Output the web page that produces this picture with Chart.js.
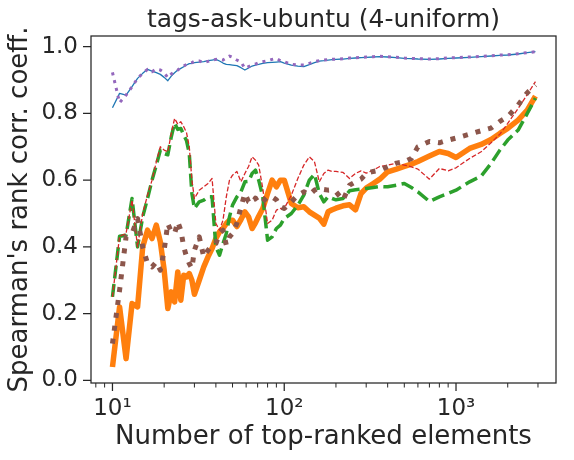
<!DOCTYPE html>
<html>
<head>
<meta charset="utf-8">
<script src="https://cdn.jsdelivr.net/npm/chart.js@4"></script>
<style>
  html, body { margin: 0; padding: 0; background: #fff; }
  #wrap { width: 574px; height: 460px; }
</style>
</head>
<body>
<div id="wrap"><canvas id="chart-rank-corr" width="574" height="460"></canvas></div>
<script>
// number of top-ranked elements (x)
const nTop = [10, 11, 12, 13, 14, 15, 16, 17, 18, 19, 20, 21, 22, 23, 24, 25, 26, 27, 28, 29, 30,
    32, 34, 36, 38, 40, 42, 44, 46, 48, 50, 53, 56, 59, 62, 65, 68, 71, 75, 80, 85, 90, 95, 100,
    110, 120, 130, 140, 150, 160, 170, 180, 190, 200, 220, 240, 260, 280, 300, 330, 360, 400, 450,
    500, 550, 600, 700, 800, 900, 1000, 1200, 1400, 1600, 1800, 2000, 2300, 2600, 2900];

const blueVals = [0.817, 0.860, 0.855, 0.880, 0.905, 0.920, 0.932, 0.927, 0.922, 0.917, 0.908, 0.898, 0.912, 0.922, 0.930, 0.935, 0.940, 0.945, 0.949, 0.950, 0.952,
    0.954, 0.955, 0.958, 0.960, 0.962, 0.957, 0.951, 0.947, 0.946, 0.945, 0.943, 0.937, 0.930, 0.936, 0.942, 0.945, 0.947, 0.950, 0.952, 0.953, 0.954, 0.955, 0.951,
    0.945, 0.942, 0.940, 0.946, 0.952, 0.957, 0.958, 0.960, 0.961, 0.962, 0.963, 0.965, 0.966, 0.967, 0.968, 0.969, 0.970, 0.969, 0.967,
    0.965, 0.964, 0.963, 0.962, 0.963, 0.965, 0.966, 0.968, 0.970, 0.972, 0.974, 0.975, 0.978, 0.982, 0.985];

const purpleVals = [0.923, 0.832, 0.855, 0.880, 0.905, 0.920, 0.932, 0.925, 0.933, 0.930, 0.922, 0.907, 0.918, 0.925, 0.930, 0.937, 0.942, 0.947, 0.950, 0.952, 0.956,
    0.957, 0.952, 0.956, 0.960, 0.962, 0.961, 0.960, 0.966, 0.972, 0.968, 0.960, 0.954, 0.935, 0.940, 0.945, 0.948, 0.952, 0.955, 0.958, 0.962, 0.965, 0.958, 0.955,
    0.947, 0.945, 0.945, 0.950, 0.955, 0.958, 0.960, 0.961, 0.962, 0.962, 0.964, 0.966, 0.967, 0.968, 0.969, 0.970, 0.971, 0.970, 0.968,
    0.966, 0.965, 0.964, 0.963, 0.964, 0.966, 0.967, 0.969, 0.971, 0.973, 0.975, 0.976, 0.979, 0.982, 0.985];

const redVals = [0.250, 0.432, 0.440, 0.540, 0.400, 0.500, 0.555, 0.600, 0.655, 0.700, 0.690, 0.685, 0.740, 0.785, 0.768, 0.775, 0.760, 0.742, 0.700, 0.600, 0.545,
    0.570, 0.580, 0.590, 0.605, 0.470, 0.450, 0.480, 0.550, 0.600, 0.615, 0.626, 0.595, 0.620, 0.641, 0.670, 0.660, 0.645, 0.575, 0.470, 0.480, 0.510, 0.515, 0.515,
    0.555, 0.605, 0.645, 0.670, 0.655, 0.595, 0.620, 0.630, 0.626, 0.626, 0.623, 0.605, 0.620, 0.628, 0.621, 0.630, 0.641, 0.645, 0.651,
    0.645, 0.640, 0.633, 0.603, 0.635, 0.628, 0.637, 0.665, 0.685, 0.712, 0.738, 0.770, 0.815, 0.857, 0.895];

const greenVals = [0.250, 0.432, 0.435, 0.545, 0.400, 0.490, 0.545, 0.600, 0.645, 0.690, 0.680, 0.676, 0.730, 0.771, 0.752, 0.755, 0.735, 0.718, 0.680, 0.560, 0.515,
    0.535, 0.540, 0.550, 0.550, 0.400, 0.375, 0.410, 0.440, 0.490, 0.525, 0.550, 0.565, 0.595, 0.596, 0.620, 0.630, 0.600, 0.550, 0.420, 0.430, 0.455, 0.465, 0.485,
    0.500, 0.525, 0.555, 0.600, 0.618, 0.560, 0.535, 0.550, 0.545, 0.541, 0.545, 0.568, 0.571, 0.573, 0.575, 0.578, 0.581, 0.580, 0.585,
    0.590, 0.578, 0.565, 0.536, 0.550, 0.560, 0.570, 0.595, 0.612, 0.650, 0.690, 0.720, 0.750, 0.800, 0.846];

const brownVals = [0.110, 0.270, 0.430, 0.440, 0.485, 0.400, 0.350, 0.340, 0.355, 0.330, 0.390, 0.470, 0.445, 0.440, 0.475, 0.450, 0.400, 0.370, 0.350, 0.336, 0.390,
    0.430, 0.370, 0.390, 0.405, 0.410, 0.440, 0.450, 0.405, 0.430, 0.440, 0.471, 0.520, 0.560, 0.535, 0.530, 0.546, 0.530, 0.535, 0.550, 0.550, 0.541, 0.520, 0.515,
    0.535, 0.555, 0.565, 0.556, 0.570, 0.576, 0.572, 0.570, 0.571, 0.565, 0.540, 0.585, 0.595, 0.603, 0.620, 0.626, 0.630, 0.640, 0.651,
    0.655, 0.665, 0.700, 0.716, 0.712, 0.720, 0.726, 0.738, 0.748, 0.756, 0.776, 0.790, 0.825, 0.862, 0.885];

const orangeVals = [0.040, 0.220, 0.065, 0.230, 0.220, 0.400, 0.450, 0.425, 0.465, 0.415, 0.330, 0.215, 0.265, 0.235, 0.325, 0.240, 0.315, 0.310, 0.320, 0.300, 0.258,
    0.300, 0.340, 0.370, 0.395, 0.425, 0.445, 0.455, 0.470, 0.480, 0.480, 0.461, 0.482, 0.505, 0.490, 0.455, 0.472, 0.492, 0.515, 0.560, 0.600, 0.580, 0.600, 0.600,
    0.530, 0.517, 0.520, 0.505, 0.495, 0.486, 0.468, 0.505, 0.511, 0.516, 0.523, 0.526, 0.511, 0.560, 0.576, 0.590, 0.603, 0.625, 0.633,
    0.641, 0.648, 0.656, 0.672, 0.686, 0.680, 0.668, 0.695, 0.707, 0.722, 0.740, 0.755, 0.780, 0.810, 0.852];

const yTickVals = [0, 0.2, 0.4, 0.6, 0.8, 1.0];
const xMajorTicks = [10, 100, 1000];
const xMinorTicks = [8, 9, 20, 30, 40, 50, 60, 70, 80, 90, 200, 300, 400, 500, 600, 700, 800, 900, 2000, 3000];

const INK = '#262626';
const FONT = 'DejaVu Sans';

function pts(vals) {
    return nTop.map((n, i) => ({x: n, y: vals[i]}));
}

function series(label, vals, color, width, dash, order) {
    return {
        label: label,
        data: pts(vals),
        borderColor: color,
        backgroundColor: color,
        borderWidth: width,
        borderDash: dash,
        borderCapStyle: 'butt',
        borderJoinStyle: 'round',
        pointRadius: 0,
        tension: 0,
        fill: false,
        order: order
    };
}

// spines on all four sides + outward tick marks (matplotlib look)
const frame = {
    id: 'frame',
    afterDraw(chart) {
        const {ctx, chartArea: a, scales: {x, y}} = chart;
        ctx.save();
        ctx.strokeStyle = INK;
        ctx.lineWidth = 1.25;
        ctx.strokeRect(a.left, a.top, a.right - a.left, a.bottom - a.top);
        ctx.beginPath();
        xMajorTicks.forEach(v => {
            const px = x.getPixelForValue(v);
            ctx.moveTo(px, a.bottom); ctx.lineTo(px, a.bottom + 8);
        });
        yTickVals.forEach(v => {
            const py = y.getPixelForValue(v);
            ctx.moveTo(a.left, py); ctx.lineTo(a.left - 8, py);
        });
        ctx.stroke();
        ctx.lineWidth = 1;
        ctx.beginPath();
        xMinorTicks.forEach(v => {
            const px = x.getPixelForValue(v);
            if (px < a.left || px > a.right) return;
            ctx.moveTo(px, a.bottom); ctx.lineTo(px, a.bottom + 4.5);
        });
        ctx.stroke();
        ctx.restore();
    }
};

const ctx = document.getElementById('chart-rank-corr').getContext('2d');
const myChart = new Chart(ctx, {
    type: 'line',
    data: {
        datasets: [
            series('blue', blueVals, '#1f77b4', 1.3, [], 6),
            series('orange', orangeVals, '#ff7f0e', 5.5, [], 5),
            series('green', greenVals, '#2ca02c', 3.5, [13, 5.5], 4),
            series('red', redVals, '#d62728', 1.3, [4.8, 2.1], 3),
            series('purple', purpleVals, '#9467bd', 3, [3, 5], 2),
            series('brown', brownVals, '#8c564b', 5, [5, 8], 1)
        ]
    },
    plugins: [frame],
    options: {
        responsive: false,
        animation: false,
        layout: {padding: {left: 0, right: 18, top: 0, bottom: 0}},
        plugins: {
            legend: {display: false},
            tooltip: {enabled: false},
            title: {
                display: true,
                fullSize: false,
                text: 'tags-ask-ubuntu (4-uniform)',
                color: INK,
                font: {family: FONT, size: 25, weight: 'normal'},
                padding: {top: 5, bottom: 1}
            }
        },
        scales: {
            x: {
                type: 'logarithmic',
                min: 7.5,
                max: 3820,
                grid: {display: false, drawTicks: false},
                border: {display: false},
                ticks: {
                    autoSkip: false,
                    maxRotation: 0,
                    padding: 12,
                    color: INK,
                    font: {family: FONT, size: 23},
                    callback: function (v) {
                        const e = Math.log10(v);
                        if (Math.abs(e - Math.round(e)) > 1e-6) return '';
                        return ({1: '10¹', 2: '10²', 3: '10³'})[Math.round(e)] || '';
                    }
                },
                title: {
                    display: true,
                    text: 'Number of top-ranked elements',
                    color: INK,
                    font: {family: FONT, size: 26},
                    padding: {top: 0, bottom: 7}
                },
                afterFit: s => { s.height = 77; }
            },
            y: {
                type: 'linear',
                min: -0.008,
                max: 1.032,
                grid: {display: false, drawTicks: false},
                border: {display: false},
                ticks: {
                    stepSize: 0.2,
                    includeBounds: false,
                    padding: 13,
                    color: INK,
                    font: {family: FONT, size: 23},
                    callback: v => v.toFixed(1)
                },
                title: {
                    display: true,
                    text: "Spearman's rank corr. coeff.",
                    color: INK,
                    font: {family: FONT, size: 26},
                    padding: {top: 5, bottom: 0}
                },
                afterFit: s => { s.width = 91; }
            }
        }
    }
});
</script>
</body>
</html>
